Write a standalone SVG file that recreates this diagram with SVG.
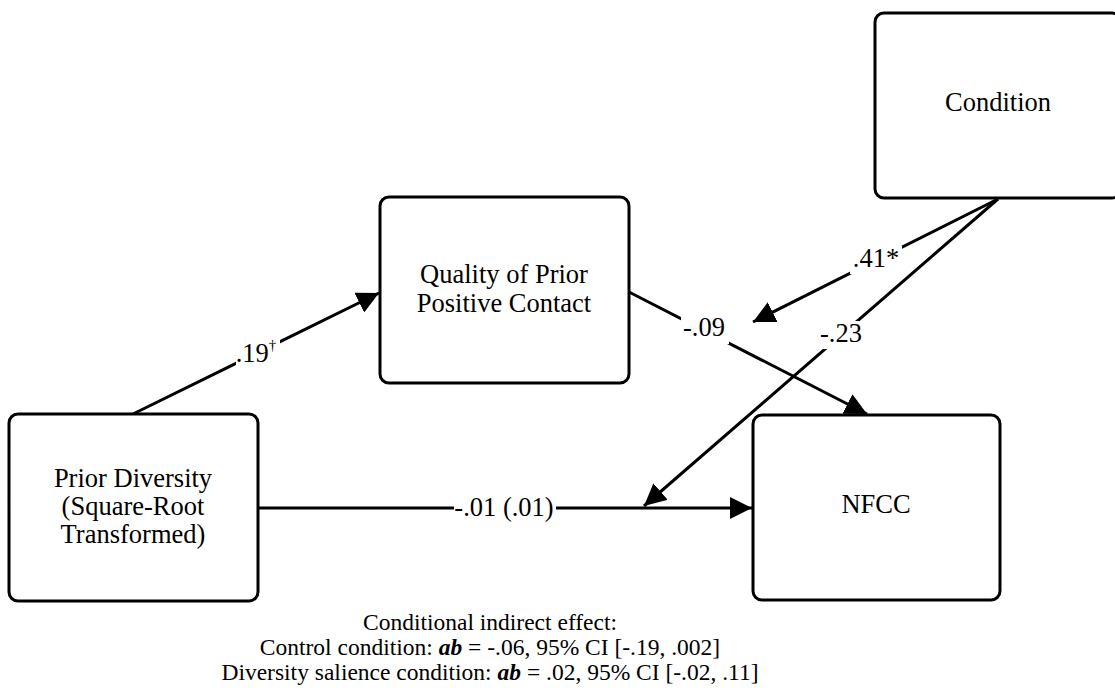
<svg xmlns="http://www.w3.org/2000/svg" width="1115" height="688" viewBox="0 0 1115 688">
<style>
.box{fill:#fff;stroke:#000;stroke-width:3}
.t{font-family:"Liberation Serif","Times New Roman",Times,serif;font-size:26.5px;fill:#000;text-anchor:middle}
.n{font-family:"Liberation Serif","Times New Roman",Times,serif;font-size:23.5px;fill:#000;text-anchor:middle}
.c{stroke:#000;stroke-width:3;fill:none}
.lb{fill:#fff;stroke:none}
</style>
<defs>
<marker id="ah" viewBox="0 0 22 22" refX="22" refY="11" markerWidth="22" markerHeight="22" markerUnits="userSpaceOnUse" orient="auto">
<path d="M0,0 L22,11 L0,22 Z" fill="#000"/>
</marker>
</defs>
<rect width="1115" height="688" fill="#fff"/>
<g id="connectors">
<line class="c" x1="133" y1="414" x2="379" y2="293" marker-end="url(#ah)"/>
<line class="c" x1="629" y1="292" x2="867" y2="414" marker-end="url(#ah)"/>
<line class="c" x1="998" y1="199" x2="753" y2="322" marker-end="url(#ah)"/>
<line class="c" x1="998" y1="199" x2="644" y2="506" marker-end="url(#ah)"/>
<line class="c" x1="258" y1="508" x2="752" y2="508" marker-end="url(#ah)"/>
<rect class="lb" x="236" y="336" width="44" height="30"/>
<text class="t" x="256" y="362">.19<tspan font-size="15" dy="-12">†</tspan></text>
<rect class="lb" x="681" y="314" width="48" height="30"/>
<text class="t" x="704" y="336">-.09</text>
<rect class="lb" x="850" y="246" width="52" height="28"/>
<text class="t" x="876" y="267">.41*</text>
<rect class="lb" x="819" y="321" width="46" height="28"/>
<text class="t" x="841" y="342">-.23</text>
<rect class="lb" x="454" y="495" width="102" height="26"/>
<text class="t" x="504" y="516">-.01 (.01)</text>
</g>
<g id="condition">
<rect class="box" x="875" y="13" width="246" height="185" rx="9"/>
<text class="t" x="998" y="111">Condition</text>
</g>
<g id="quality">
<rect class="box" x="380" y="197" width="249" height="186" rx="9"/>
<text class="t" x="504" y="283">Quality of Prior</text>
<text class="t" x="504" y="312">Positive Contact</text>
</g>
<g id="prior-diversity">
<rect class="box" x="9" y="414" width="249" height="187" rx="9"/>
<text class="t" x="133" y="487">Prior Diversity</text>
<text class="t" x="133" y="515">(Square-Root</text>
<text class="t" x="133" y="543">Transformed)</text>
</g>
<g id="nfcc">
<rect class="box" x="753" y="415" width="247" height="185" rx="9"/>
<text class="t" x="876" y="513">NFCC</text>
</g>
<g id="note">
<text class="n" x="490" y="630">Conditional indirect effect:</text>
<text class="n" x="490" y="655">Control condition: <tspan font-style="italic" font-weight="bold">ab</tspan> = -.06, 95% CI [-.19, .002]</text>
<text class="n" x="490" y="680">Diversity salience condition: <tspan font-style="italic" font-weight="bold">ab</tspan> = .02, 95% CI [-.02, .11]</text>
</g>
</svg>
